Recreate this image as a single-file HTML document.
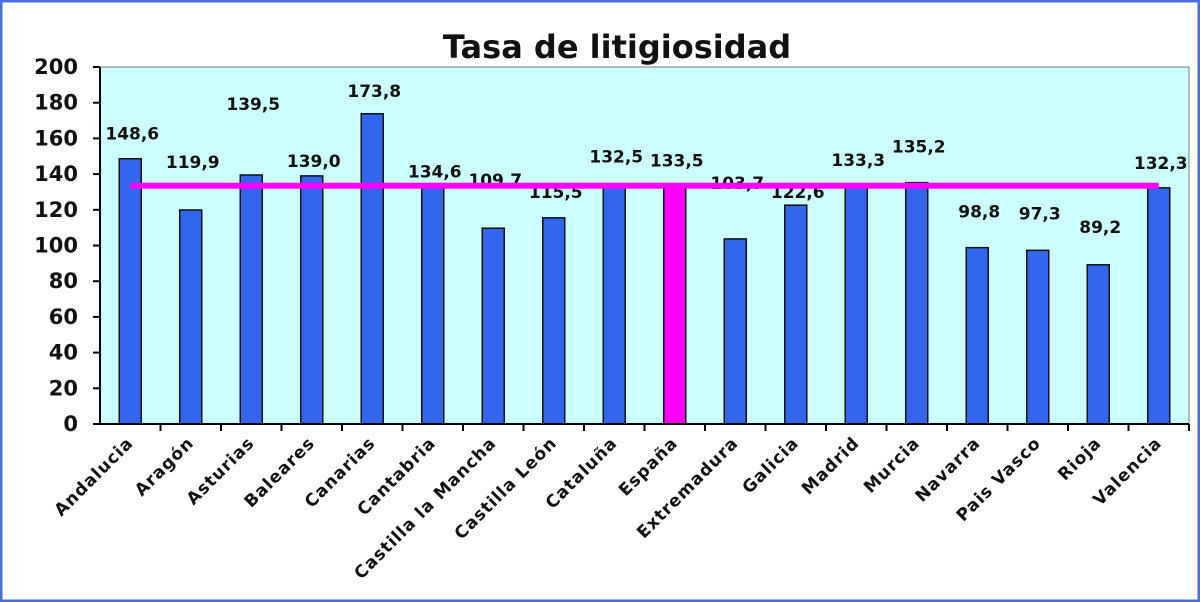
<!DOCTYPE html>
<html><head><meta charset="utf-8"><style>
html,body{margin:0;padding:0;background:#fff}
svg{display:block}
text{font-family:"DejaVu Sans","Liberation Sans",sans-serif;font-weight:bold;fill:#111}
</style></head><body>
<svg width="1200" height="602" viewBox="0 0 1200 602">
<rect x="1" y="1" width="1198" height="600" fill="#fff" stroke="#4a6ee0" stroke-width="3"/>
<text x="617" y="58" font-size="32" text-anchor="middle">Tasa de litigiosidad</text>
<rect x="100" y="67" width="1089" height="357" fill="#ccffff" stroke="#777" stroke-width="1"/>
<g id="g"></g>
</svg>
<script>
const categories=["Andalucia","Aragón","Asturias","Baleares","Canarias","Cantabria","Castilla la Mancha","Castilla León","Cataluña","España","Extremadura","Galicia","Madrid","Murcia","Navarra","Pais Vasco","Rioja","Valencia"];
const values=[148.6,119.9,139.5,139.0,173.8,134.6,109.7,115.5,132.5,133.5,103.7,122.6,133.3,135.2,98.8,97.3,89.2,132.3];
const valueLabels=["148,6","119,9","139,5","139,0","173,8","134,6","109,7","115,5","132,5","133,5","103,7","122,6","133,3","135,2","98,8","97,3","89,2","132,3"];
const yTicks=[0,20,40,60,80,100,120,140,160,180,200];
const average=133.5;
const highlight="España";

const NS="http://www.w3.org/2000/svg";
const g=document.getElementById('g');
const X0=100,X1=1189,Y0=424,Y1=67,YMAX=200;
const labelShift=[-25,-48,-71,-15,-23,-12,-48,-26,-31,-25,-56,-13,-26,-36,-36,-37,-38,-25];
const step=(X1-X0)/categories.length;
const y=v=>Y0-(v/YMAX)*(Y0-Y1);
const xc=i=>X0+step*(i+0.5);
function mk(t,a){const e=document.createElementNS(NS,t);for(const k in a)e.setAttribute(k,a[k]);g.appendChild(e);return e;}

let ax=mk('line',{x1:X0,y1:Y1,x2:X0,y2:Y0,stroke:'#000','stroke-width':2});


yTicks.forEach(t=>{
 const l=mk('line',{x1:X0-7,y1:y(t),x2:X0,y2:y(t),stroke:'#000','stroke-width':2});
 
 
 const tx=mk('text',{x:X0-22,y:y(t)+7,'font-size':21,'text-anchor':'end'});
 tx.textContent=t;
 
 
});
categories.forEach((c,i)=>{
 const v=values[i];
 const r=mk('rect',{x:xc(i)-11,y:y(v),width:22,height:Y0-y(v),fill:c===highlight?'#ff00ff':'#3366ee',stroke:'#111','stroke-width':1.5});
 
 
 const vl=mk('text',{x:xc(i)+2,y:y(v)+labelShift[i]+6,'font-size':17,'text-anchor':'middle'});
 vl.textContent=valueLabels[i];
 
 
 const tk=mk('line',{x1:X0+step*(i+1),y1:Y0,x2:X0+step*(i+1),y2:Y0+7,stroke:'#000','stroke-width':2});
 
 
 const cx=xc(i)+4,cy=Y0+20;
 const cl=mk('text',{x:cx,y:cy,'font-size':17,'text-anchor':'end',transform:`rotate(-45 ${cx} ${cy})`,'letter-spacing':'1'});
 cl.textContent=c;
 
 
});
const xa=mk('line',{x1:X0,y1:Y0,x2:X1,y2:Y0,stroke:'#000','stroke-width':2});


const av=mk('line',{x1:xc(0),y1:y(average),x2:xc(categories.length-1),y2:y(average),stroke:'#ff00ff','stroke-width':6});


</script>
</body></html>
